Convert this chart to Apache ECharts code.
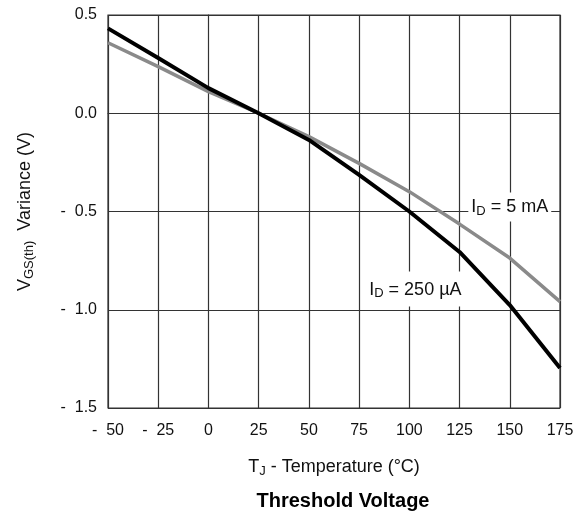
<!DOCTYPE html>
<html><head><meta charset="utf-8">
<script src="https://cdn.jsdelivr.net/npm/echarts@6/dist/echarts.min.js"></script>
<style>html,body{margin:0;padding:0;background:#fff}#c{width:588px;height:512px}</style>
</head><body><div id="c"></div>
<script>
const temps = [-50, -25, 0, 25, 50, 75, 100, 125, 150, 175];
const id250uA = [0.432, 0.281, 0.128, 0.0, -0.136, -0.314, -0.50, -0.706, -0.976, -1.296];
const id5mA = [0.359, 0.237, 0.110, 0.0, -0.119, -0.255, -0.399, -0.564, -0.737, -0.959];
const xTicks = [-50, -25, 0, 25, 50, 75, 100, 125, 150, 175];
const yTicks = [-1.5, -1.0, -0.5, 0.0, 0.5];

const font = 'Liberation Sans, Arial, Helvetica, sans-serif';
function fmtNeg(v, d) {
  const s = Math.abs(v).toFixed(d);
  return v < 0 ? '-  ' + s : s;
}
const chart = echarts.init(document.getElementById('c'), null, {renderer: 'canvas'});
const labelRich = {
  n: {fontSize: 18, fontFamily: font, color: '#111'},
  s: {fontSize: 13, fontFamily: font, color: '#111', padding: [8, 0, 0, 0]}
};
chart.setOption({
  animation: false,
  backgroundColor: '#fff',
  grid: {left: 108, top: 15, right: 28, bottom: 104, show: true, borderColor: '#333', borderWidth: 1.2, backgroundColor: 'transparent'},
  title: {
    text: 'Threshold Voltage', left: 338, textAlign: 'center', top: 486,
    textStyle: {fontSize: 20, fontWeight: 'bold', fontFamily: font, color: '#000'}
  },
  xAxis: {
    type: 'value', min: -50, max: 175, interval: 25,
    axisLine: {show: true, lineStyle: {color: '#333'}},
    axisTick: {show: false},
    splitLine: {show: true, lineStyle: {color: '#333', width: 1.2}},
    axisLabel: {fontSize: 16, fontFamily: font, color: '#111', margin: 15,
      formatter: v => fmtNeg(v, 0),
      customValues: xTicks},
    name: '{n|T}{s|J}{n| - Temperature (°C)}',
    nameLocation: 'middle', nameGap: 49,
    nameTextStyle: {rich: labelRich}
  },
  yAxis: {
    type: 'value', min: -1.5, max: 0.5, interval: 0.5,
    axisLine: {show: true, lineStyle: {color: '#333'}},
    axisTick: {show: false},
    splitLine: {show: true, lineStyle: {color: '#333', width: 1.2}},
    axisLabel: {fontSize: 16, fontFamily: font, color: '#111', margin: 11,
      formatter: v => fmtNeg(v, 1)},
    name: '{n|V}{s|GS(th)}{n|  Variance (V)}',
    nameLocation: 'middle', nameGap: 72, nameRotate: 90,
    nameTextStyle: {rich: labelRich}
  },
  series: [
    {
      name: 'ID = 5 mA', type: 'line', showSymbol: false, symbol: 'none',
      data: temps.map((t, i) => [t, id5mA[i]]),
      lineStyle: {color: '#8a8a8a', width: 3.5}, z: 3,
      markPoint: {
        symbol: 'rect', symbolSize: 0,
        data: [{coord: [150, -0.477]}],
        label: {show: true, position: 'inside', formatter: '{n|I}{s|D}{n| = 5 mA}',
          backgroundColor: '#fff', padding: [4, 3, 4, 3], rich: labelRich}
      }
    },
    {
      name: 'ID = 250 uA', type: 'line', showSymbol: false, symbol: 'none',
      data: temps.map((t, i) => [t, id250uA[i]]),
      lineStyle: {color: '#000', width: 4}, z: 4,
      markPoint: {
        symbol: 'rect', symbolSize: 0,
        data: [{coord: [103, -0.894]}],
        label: {show: true, position: 'inside', formatter: '{n|I}{s|D}{n| = 250 µA}',
          backgroundColor: '#fff', padding: [8, 4, 6, 4], rich: labelRich}
      }
    }
  ]
});
</script></body></html>
